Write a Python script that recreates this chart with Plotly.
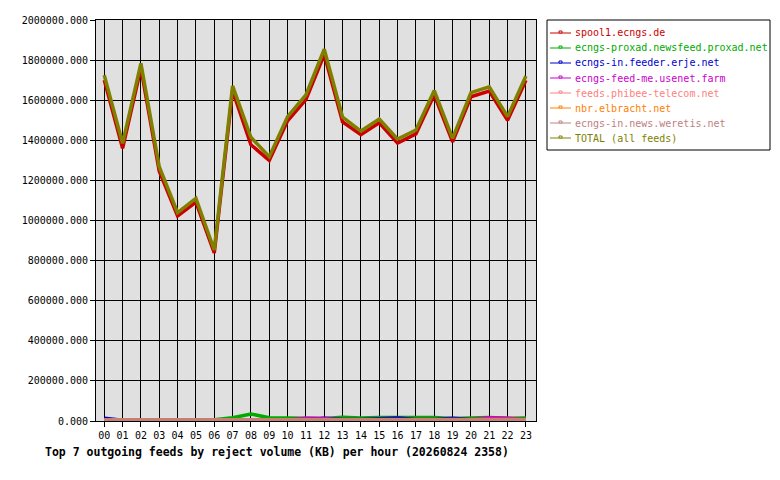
import plotly.graph_objects as go

# hours of the day
hours = ["00", "01", "02", "03", "04", "05", "06", "07", "08", "09", "10", "11",
         "12", "13", "14", "15", "16", "17", "18", "19", "20", "21", "22", "23"]

# reject volume (KB) per hour
spool1 = [1700000, 1360000, 1760000, 1245000, 1022000, 1092000, 838000, 1648000,
          1378000, 1300000, 1497000, 1603000, 1828000, 1492000, 1428000, 1487000,
          1386000, 1432000, 1627000, 1392000, 1617000, 1645000, 1500000, 1700000]
proxad = [5000, 5000, 5000, 5000, 5000, 5000, 6000, 16000, 35000, 16000, 14000, 12000,
          13000, 19000, 15000, 18000, 18000, 15000, 18000, 13000, 14000, 18000, 14000, 15000]
erje = [14000, 4000, 4000, 4000, 4000, 4000, 4000, 4000, 4000, 4000, 4000, 4000,
        14000, 8000, 8000, 12000, 15000, 8000, 8000, 14000, 8000, 8000, 8000, 8000]
usenet_farm = [3000, 3000, 3000, 3000, 3000, 3000, 3000, 3000, 3000, 3000, 5000, 14000,
               12000, 5000, 5000, 5000, 5000, 5000, 5000, 5000, 5000, 16000, 14000, 5000]
phibee = [3000, 3000, 3000, 3000, 3000, 3000, 3000, 3000, 3000, 3000, 3000, 3000,
          3000, 3000, 3000, 3000, 3000, 3000, 3000, 3000, 3000, 3000, 3000, 3000]
elbracht = [6000, 6000, 6000, 7000, 7000, 6000, 7000, 6000, 6000, 6000, 7000, 6000,
            6000, 7000, 6000, 7000, 6000, 6000, 6000, 6000, 6000, 6000, 6000, 7000]
weretis = [5000, 5000, 5000, 5000, 5000, 5000, 5000, 5000, 5000, 5000, 5000, 5000,
           5000, 5000, 5000, 5000, 5000, 5000, 5000, 5000, 5000, 5000, 5000, 5000]
total = [1725000, 1385000, 1784000, 1268000, 1039000, 1110000, 853000, 1671000,
         1415000, 1318000, 1518000, 1626000, 1854000, 1515000, 1446000, 1506000,
         1406000, 1451000, 1648000, 1410000, 1638000, 1667000, 1518000, 1721000]

names = ["spool1.ecngs.de", "ecngs-proxad.newsfeed.proxad.net", "ecngs-in.feeder.erje.net",
         "ecngs-feed-me.usenet.farm", "feeds.phibee-telecom.net", "nbr.elbracht.net",
         "ecngs-in.news.weretis.net", "TOTAL (all feeds)"]
series = [spool1, proxad, erje, usenet_farm, phibee, elbracht, weretis, total]
colors = ["#cc0000", "#00aa00", "#0000cc", "#cc00cc", "#ff8080", "#ff8000", "#c08080", "#808000"]

mono = "DejaVu Sans Mono"

# the page body adds ~8px of margin, so lay everything out 8px up/left
OFF = 8
L, R, T, B = 96 - OFF, 536 - OFF, 20 - OFF, 421 - OFF
W, H = R - L, B - T


def px(x):
    return (x - OFF - L) / W


def py(y):
    return (B - (y - OFF)) / H


fig = go.Figure()
for name, vals, col in zip(names, series, colors):
    fig.add_trace(go.Scatter(
        x=list(range(len(hours))), y=vals,
        mode="lines", name=name,
        line=dict(color=col, width=3.5),
        hoverinfo="skip", showlegend=False,
    ))

# hand-made legend box (gd-style)
shapes = [dict(type="rect", xref="paper", yref="paper",
               x0=px(547), x1=px(770), y0=py(20), y1=py(150),
               line=dict(color="black", width=1), fillcolor="white", layer="above")]
annotations = []
for i, (name, col) in enumerate(zip(names, colors)):
    yy = 33 + 15 * i
    shapes.append(dict(type="line", xref="paper", yref="paper",
                       x0=px(550), x1=px(571), y0=py(yy), y1=py(yy),
                       line=dict(color=col, width=1), layer="above"))
    shapes.append(dict(type="rect", xref="paper", yref="paper",
                       x0=px(559), x1=px(562), y0=py(yy), y1=py(yy - 2),
                       line=dict(color=col, width=1), fillcolor="white", layer="above"))
    annotations.append(dict(text=name, xref="paper", yref="paper",
                            x=px(573), y=py(yy), xanchor="left", yanchor="middle",
                            showarrow=False, font=dict(family=mono, size=10, color=col)))

annotations.append(dict(
    text="<b>Top 7 outgoing feeds by reject volume (KB) per hour (20260824 2358)</b>",
    xref="paper", yref="paper", x=px(43), y=py(452),
    xanchor="left", yanchor="middle", showarrow=False,
    font=dict(family=mono, size=11.5, color="black"),
))

fig.update_layout(
    width=780, height=480,
    margin=dict(l=L, r=780 - R, t=T, b=480 - B, autoexpand=False),
    paper_bgcolor="white",
    plot_bgcolor="#e0e0e0",
    font=dict(family=mono, size=10, color="black"),
    showlegend=False,
    shapes=shapes,
    annotations=annotations,
)

fig.update_xaxes(
    range=[-0.45, 23.55],
    tickmode="array", tickvals=list(range(len(hours))), ticktext=hours,
    showgrid=True, gridcolor="black", gridwidth=1,
    showline=True, linecolor="black", linewidth=1, mirror=True,
    ticks="outside", ticklen=5, tickcolor="black", zeroline=False,
)
fig.update_yaxes(
    range=[0, 2000000], dtick=200000, tickformat=".3f",
    showgrid=True, gridcolor="black", gridwidth=1,
    showline=True, linecolor="black", linewidth=1, mirror=True,
    ticks="outside", ticklen=5, tickcolor="black", zeroline=False,
)

fig.write_html("out.html")
